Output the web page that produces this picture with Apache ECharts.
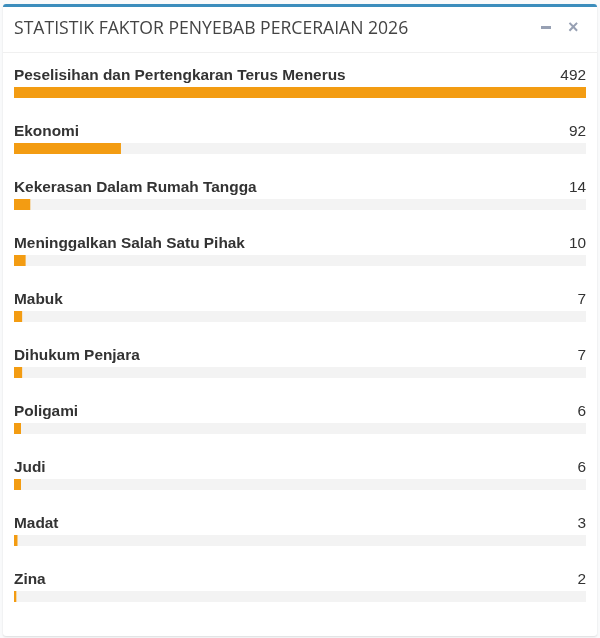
<!DOCTYPE html>
<html>
<head>
<meta charset="utf-8">
<script src="https://cdn.jsdelivr.net/npm/echarts@6/dist/echarts.min.js"></script>
<style>
html,body{margin:0;padding:0;background:#f9fafb;}
#chart{width:600px;height:638px;}
</style>
</head>
<body>
<div id="chart"></div>
<script>
var title = 'STATISTIK FAKTOR PENYEBAB PERCERAIAN 2026';
var categories = ['Peselisihan dan Pertengkaran Terus Menerus','Ekonomi','Kekerasan Dalam Rumah Tangga','Meninggalkan Salah Satu Pihak','Mabuk','Dihukum Penjara','Poligami','Judi','Madat','Zina'];
var values = [492, 92, 14, 10, 7, 7, 6, 6, 3, 2];
var maxValue = 492;

var chart = echarts.init(document.getElementById('chart'), null, {renderer:'canvas'});
chart.setOption({
  animation:false,
  backgroundColor:'#f9fafb',
  graphic:[
    {type:'rect', shape:{x:3,y:4,width:594,height:632,r:3}, style:{fill:'#ffffff', shadowBlur:2, shadowOffsetY:1, shadowColor:'rgba(0,0,0,0.12)'}, z:-10},
    {type:'rect', shape:{x:3,y:4,width:594,height:3,r:[3,3,0,0]}, style:{fill:'#3c8dbc'}, z:-9},
    {type:'rect', shape:{x:3,y:52,width:594,height:1}, style:{fill:'#f0f0f0'}, z:-9},
    {type:'text', left:14, top:20, style:{text:title, fill:'#444444', font:'17.6px "Open Sans", sans-serif'}},
    {type:'rect', shape:{x:541,y:26,width:10,height:3}, style:{fill:'#97a0b3'}},
    {type:'text', left:568, top:19, style:{text:'\u00d7', fill:'#97a0b3', font:'bold 18px "Liberation Sans", sans-serif'}}
  ],
  grid:{left:14, right:14, top:64.5, height:560, containLabel:false},
  xAxis:{type:'value', min:0, max:maxValue, show:false},
  yAxis:{type:'category', data:categories, inverse:true, show:false},
  series:[
    {
      type:'bar', data:values, barWidth:11,
      itemStyle:{color:'#f39c12'},
      showBackground:true, backgroundStyle:{color:'#f3f3f3'},
      label:{show:true, position:[0,-4], align:'left', verticalAlign:'bottom', formatter:'{b}',
        color:'#333333', fontFamily:'"Liberation Sans", Arial, sans-serif', fontWeight:'bold', fontSize:15.4}
    },
    {
      type:'bar', data:values.map(function(){return maxValue;}), barWidth:11, barGap:'-100%',
      itemStyle:{color:'rgba(0,0,0,0)'}, silent:true,
      label:{show:true, position:['100%',-4], align:'right', verticalAlign:'bottom',
        formatter:function(p){return String(values[p.dataIndex]);},
        color:'#333333', fontFamily:'"Liberation Sans", Arial, sans-serif', fontSize:15.4}
    }
  ]
});
</script>
</body>
</html>
